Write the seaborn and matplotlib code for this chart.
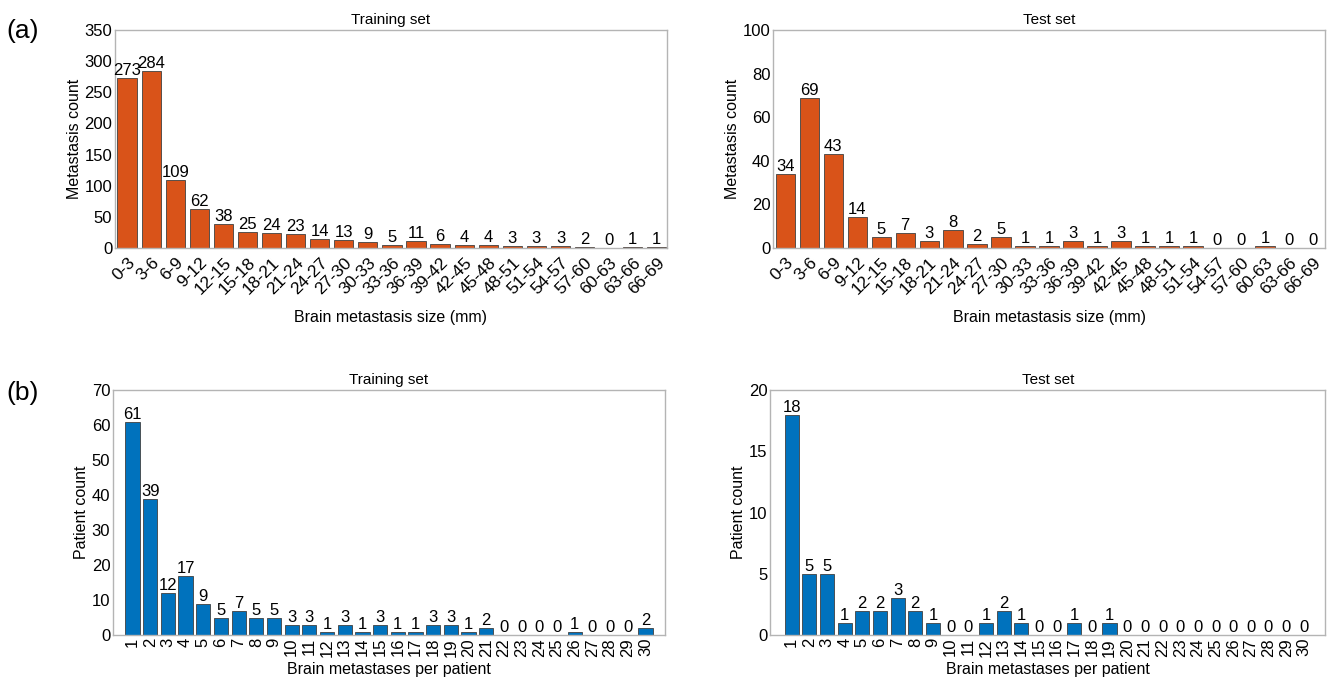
import numpy as np
import pandas as pd
import matplotlib
matplotlib.use("Agg")
import matplotlib.pyplot as plt
import seaborn as sns

# size bins (mm)
size_bins = ['0-3', '3-6', '6-9', '9-12', '12-15', '15-18', '18-21', '21-24', '24-27',
             '27-30', '30-33', '33-36', '36-39', '39-42', '42-45', '45-48', '48-51',
             '51-54', '54-57', '57-60', '60-63', '63-66', '66-69']
size_train = [273, 284, 109, 62, 38, 25, 24, 23, 14, 13, 9, 5, 11, 6, 4, 4, 3, 3, 3, 2, 0, 1, 1]
size_test = [34, 69, 43, 14, 5, 7, 3, 8, 2, 5, 1, 1, 3, 1, 3, 1, 1, 1, 0, 0, 1, 0, 0]

# metastases per patient
per_patient = [str(i) for i in range(1, 31)]
patients_train = [61, 39, 12, 17, 9, 5, 7, 5, 5, 3, 3, 1, 3, 1, 3, 1, 1, 3, 3, 1, 2,
                  0, 0, 0, 0, 1, 0, 0, 0, 2]
patients_test = [18, 5, 5, 1, 2, 2, 3, 2, 1, 0, 0, 1, 2, 1, 0, 0, 1, 0, 1,
                 0, 0, 0, 0, 0, 0, 0, 0, 0, 0, 0]

orange = '#D95319'
blue = '#0072BD'

sns.set_style("white")
plt.rcParams['font.family'] = ['Liberation Sans', 'DejaVu Sans']
plt.rcParams['text.color'] = 'black'
plt.rcParams['axes.labelcolor'] = 'black'
plt.rcParams['xtick.color'] = 'black'
plt.rcParams['ytick.color'] = 'black'

fig = plt.figure(figsize=(13.33, 6.83), dpi=100)

panels = [
    # rect, cats, vals, color, title, xlabel, ylabel, ymax, ystep, rot, xlim
    ([0.0863, 0.637, 0.414, 0.319], size_bins, size_train, orange, 'Training set',
     'Brain metastasis size (mm)', 'Metastasis count', 350, 50, 45, (-0.5, 22.42)),
    ([0.580, 0.637, 0.414, 0.319], size_bins, size_test, orange, 'Test set',
     'Brain metastasis size (mm)', 'Metastasis count', 100, 20, 45, (-0.5, 22.5)),
    ([0.0848, 0.070, 0.414, 0.359], per_patient, patients_train, blue, 'Training set',
     'Brain metastases per patient', 'Patient count', 70, 10, 90, (-1.1, 30.1)),
    ([0.578, 0.070, 0.416, 0.359], per_patient, patients_test, blue, 'Test set',
     'Brain metastases per patient', 'Patient count', 20, 5, 90, (-1.2, 30.2)),
]

for rect, cats, vals, col, title, xlab, ylab, ymax, ystep, rot, xl in panels:
    ax = fig.add_axes(rect)
    df = pd.DataFrame({'cat': cats, 'val': vals})
    sns.barplot(data=df, x='cat', y='val', color=col, saturation=1, width=0.8,
                edgecolor='#404040', linewidth=0.6, ax=ax)
    ax.bar_label(ax.containers[0], padding=0, fontsize=12)
    ax.set_ylim(0, ymax)
    ax.set_yticks(np.arange(0, ymax + 1, ystep))
    ax.set_xlim(*xl)
    ax.set_title(title, fontsize=11, pad=4)
    ax.set_ylabel(ylab, fontsize=11.5, labelpad=2)
    ax.tick_params(axis='y', length=0, labelsize=12, pad=2)
    if rot == 45:
        ax.tick_params(axis='x', length=0, labelsize=12.5, pad=5)
        ax.set_xlabel(xlab, fontsize=11.5, labelpad=9)
        for t in ax.get_xticklabels():
            t.set_rotation(45)
            t.set_ha('right')
            t.set_rotation_mode('anchor')
    else:
        ax.tick_params(axis='x', length=0, labelsize=12, pad=2)
        ax.set_xlabel(xlab, fontsize=11.5, labelpad=4)
        for t in ax.get_xticklabels():
            t.set_rotation(90)
            t.set_ha('center')
            t.set_va('top')
    for s in ax.spines.values():
        s.set_visible(True)
        s.set_color('#b4b4b4')
        s.set_linewidth(1.0)

fig.text(0.005, 0.945, '(a)', fontsize=19)
fig.text(0.005, 0.415, '(b)', fontsize=19)

fig.savefig('out.png', dpi=100)
